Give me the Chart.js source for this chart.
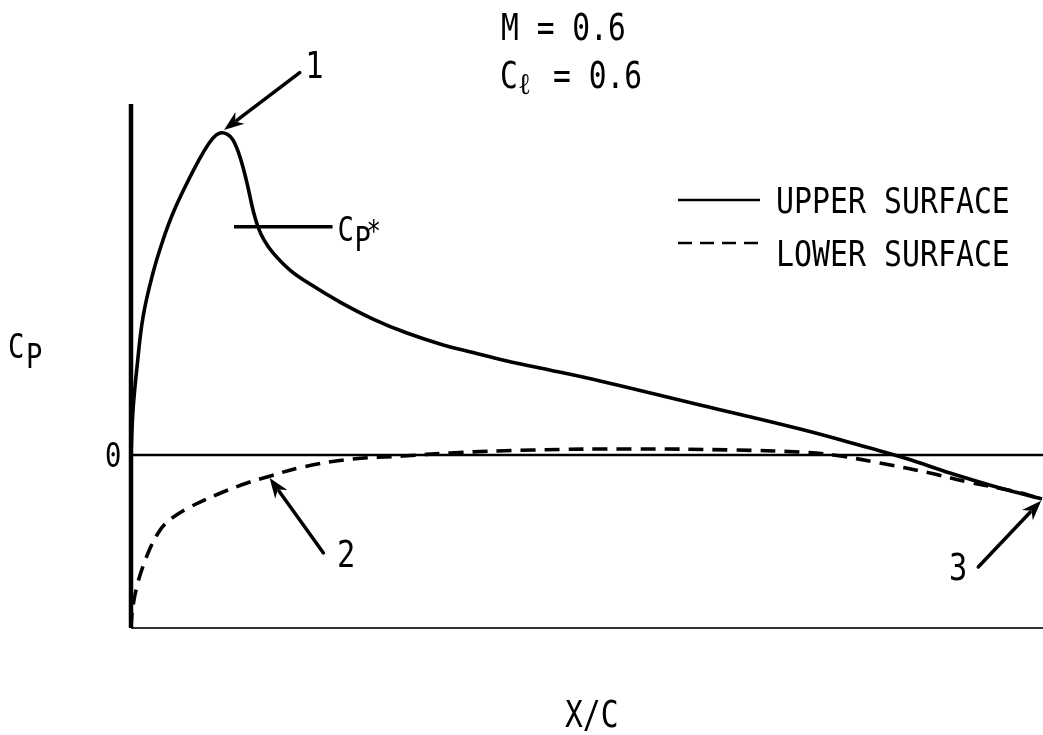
<!DOCTYPE html>
<html>
<head>
<meta charset="utf-8">
<script src="https://cdn.jsdelivr.net/npm/chart.js@4/dist/chart.umd.min.js"></script>
<style>
html,body{margin:0;padding:0;background:#fff;}
canvas{display:block;}
</style>
</head>
<body>
<canvas id="c" width="1043" height="735"></canvas>
<script>
// Chordwise stations (x/c) and pressure coefficients
const upperX  = [0, 0.0022, 0.0066, 0.0132, 0.0241, 0.0351, 0.0461, 0.0614, 0.0789, 0.0899, 0.0976, 0.1053, 0.1118, 0.1195, 0.1272, 0.1338, 0.1393, 0.1458, 0.1557, 0.1743, 0.1963, 0.2292, 0.2654, 0.3026, 0.3388, 0.375, 0.4123, 0.4485, 0.5143, 0.6239, 0.7336, 0.8103, 0.852, 0.898, 0.9529, 0.9989];
const upperCp = [0.0, -0.260, -0.509, -0.798, -1.052, -1.243, -1.399, -1.572, -1.746, -1.832, -1.861, -1.855, -1.821, -1.723, -1.572, -1.416, -1.318, -1.243, -1.168, -1.069, -0.988, -0.884, -0.786, -0.705, -0.642, -0.592, -0.543, -0.503, -0.428, -0.289, -0.150, -0.040, 0.023, 0.104, 0.191, 0.254];
const lowerX  = [0, 0.0011, 0.0033, 0.0066, 0.011, 0.0164, 0.0219, 0.0285, 0.0373, 0.0515, 0.0647, 0.0757, 0.1009, 0.1272, 0.1491, 0.1886, 0.2434, 0.298, 0.350, 0.441, 0.550, 0.660, 0.734, 0.770, 0.821, 0.876, 0.917, 0.967, 0.9989];
const lowerCp = [1.0, 0.919, 0.838, 0.757, 0.676, 0.598, 0.527, 0.462, 0.399, 0.341, 0.301, 0.272, 0.214, 0.162, 0.127, 0.069, 0.023, 0.006, -0.012, -0.029, -0.035, -0.029, -0.017, 0.0, 0.046, 0.104, 0.156, 0.208, 0.254];
// Critical pressure coefficient marker (x extent and value)
const cpStarX = [0.113, 0.221];
const cpStar = -1.32;
// Labels
const titleLines = ["M = 0.6", "C", "\u2113", "= 0.6"];
const seriesNames = ["UPPER SURFACE", "LOWER SURFACE"];
const yTickLabels = ["0"];
const axisTitles = {x: "X/C", y: ["C", "P"]};
// Numbered callouts: [label, headX, headCp, tailX, tailCp, labelX, labelCp]
const callouts = [
  ["1", 0.102, -1.879, 0.185, -2.21, 0.191, -2.179],
  ["2", 0.152, 0.133, 0.211, 0.566, 0.226, 0.650],
  ["3", 0.998, 0.264, 0.929, 0.647, 0.897, 0.723]
];

const FONT = '"DejaVu Sans Mono", monospace';
function txt(ctx, s, x, y, size, sx) {
  ctx.save();
  ctx.translate(x, y);
  ctx.scale(sx || 0.8, 1);
  ctx.font = size + 'px ' + FONT;
  ctx.textAlign = 'left';
  ctx.textBaseline = 'alphabetic';
  ctx.fillStyle = '#000';
  ctx.fillText(s, 0, 0);
  ctx.restore();
}
function arrow(ctx, x1, y1, x2, y2) {
  const a = Math.atan2(y2 - y1, x2 - x1);
  const L = 20, W = 7.5;
  ctx.save();
  ctx.strokeStyle = '#000';
  ctx.fillStyle = '#000';
  ctx.lineWidth = 3.5;
  ctx.lineCap = 'round';
  ctx.beginPath();
  ctx.moveTo(x1, y1);
  ctx.lineTo(x2 - Math.cos(a) * (L - 4), y2 - Math.sin(a) * (L - 4));
  ctx.stroke();
  ctx.beginPath();
  ctx.moveTo(x2, y2);
  ctx.lineTo(x2 - Math.cos(a) * L - Math.sin(a) * W, y2 - Math.sin(a) * L + Math.cos(a) * W);
  ctx.lineTo(x2 - Math.cos(a) * L * 0.7, y2 - Math.sin(a) * L * 0.7);
  ctx.lineTo(x2 - Math.cos(a) * L + Math.sin(a) * W, y2 - Math.sin(a) * L - Math.cos(a) * W);
  ctx.closePath();
  ctx.fill();
  ctx.restore();
}

const framePlugin = {
  id: 'frame',
  beforeDatasetsDraw(chart) {
    const ctx = chart.ctx, xs = chart.scales.x, ys = chart.scales.y, ca = chart.chartArea;
    const x0 = xs.getPixelForValue(0), y0 = ys.getPixelForValue(0);
    ctx.save();
    ctx.strokeStyle = '#333';
    ctx.lineWidth = 2;
    ctx.beginPath();
    ctx.moveTo(x0, ca.bottom); ctx.lineTo(ca.right, ca.bottom);
    ctx.stroke();
    ctx.strokeStyle = '#000';
    ctx.lineWidth = 2.5;
    ctx.beginPath();
    ctx.moveTo(x0, y0); ctx.lineTo(ca.right, y0);
    ctx.stroke();
    ctx.lineWidth = 4.5;
    ctx.beginPath();
    ctx.moveTo(x0, ca.top); ctx.lineTo(x0, ca.bottom);
    ctx.stroke();
    ctx.restore();
  },
  afterDatasetsDraw(chart) {
    const ctx = chart.ctx, xs = chart.scales.x, ys = chart.scales.y;
    const X = v => xs.getPixelForValue(v), Y = v => ys.getPixelForValue(v);
    // title
    txt(ctx, titleLines[0], 501, 40, 37);
    txt(ctx, titleLines[1], 500, 88, 37);
    txt(ctx, titleLines[2], 518, 94, 30, 0.9);
    txt(ctx, titleLines[3], 553, 88, 37);
    // legend
    ctx.save();
    ctx.strokeStyle = '#000';
    ctx.lineWidth = 2.4;
    ctx.beginPath(); ctx.moveTo(678, 200); ctx.lineTo(760, 200); ctx.stroke();
    ctx.setLineDash([14, 8]);
    ctx.beginPath(); ctx.moveTo(678, 243); ctx.lineTo(760, 243); ctx.stroke();
    ctx.restore();
    txt(ctx, seriesNames[0], 776, 213, 36, 0.83);
    txt(ctx, seriesNames[1], 776, 266, 36, 0.83);
    // axis titles and tick label
    txt(ctx, axisTitles.y[0], 8, 358, 34);
    txt(ctx, axisTitles.y[1], 26, 368, 34);
    txt(ctx, yTickLabels[0], X(0) - 26, Y(0) + 12, 34);
    txt(ctx, axisTitles.x, 565, 727, 37);
    // Cp* label
    const cx = X(cpStarX[1]) + 5, cy = Y(cpStar);
    txt(ctx, 'C', cx, cy + 14, 34);
    txt(ctx, 'P', cx + 17, cy + 24, 34);
    txt(ctx, '*', cx + 29, cy + 14, 30);
    // callouts
    callouts.forEach(c => {
      arrow(ctx, X(c[3]), Y(c[4]), X(c[1]), Y(c[2]));
      txt(ctx, c[0], X(c[5]), Y(c[6]), 38);
    });
  }
};

const upperData = upperX.map((x, i) => ({x: x, y: upperCp[i]}));
const lowerData = lowerX.map((x, i) => ({x: x, y: lowerCp[i]}));
const cpStarData = cpStarX.map(x => ({x: x, y: cpStar}));

new Chart(document.getElementById('c'), {
  type: 'scatter',
  data: {
    datasets: [
      {label: seriesNames[0], data: upperData, showLine: true, borderColor: '#000', borderWidth: 3.6, pointRadius: 0, tension: 0.4, clip: false},
      {label: seriesNames[1], data: lowerData, showLine: true, borderColor: '#000', borderWidth: 3.6, borderDash: [15, 9], pointRadius: 0, tension: 0.4, clip: false},
      {label: 'Cp*', data: cpStarData, showLine: true, borderColor: '#000', borderWidth: 3.5, pointRadius: 0, clip: false}
    ]
  },
  options: {
    responsive: false,
    animation: false,
    devicePixelRatio: 1,
    layout: {padding: {left: 131, right: 0, top: 104, bottom: 107}},
    plugins: {legend: {display: false}, tooltip: {enabled: false}, title: {display: false}},
    scales: {
      x: {type: 'linear', min: 0, max: 1, display: false},
      y: {type: 'linear', min: -2.029, max: 1.0, reverse: true, display: false}
    }
  },
  plugins: [framePlugin]
});
</script>
</body>
</html>
